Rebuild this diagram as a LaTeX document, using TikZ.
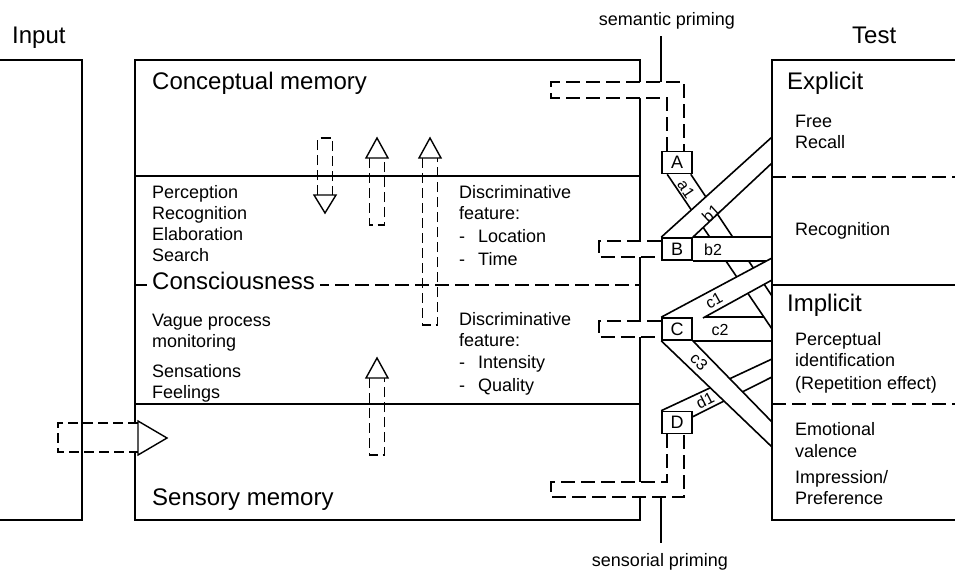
\documentclass[tikz,border=0pt]{standalone}
\usepackage{fontspec}
\setmainfont{Liberation Sans}
\usetikzlibrary{backgrounds}

\tikzset{
  txt/.style={anchor=base west, inner sep=0pt, font=\fontsize{18}{21}\selectfont},
  big/.style={anchor=base west, inner sep=0pt, font=\fontsize{24}{28}\selectfont},
  frame/.style={line width=1.6pt},
  dashframe/.style={line width=1.6pt, dash pattern=on 14pt off 6pt},
  prime/.style={line width=1.4pt, dash pattern=on 14pt off 6pt, fill=white},
  shaft/.style={line width=1.4pt, dash pattern=on 10pt off 5pt},
  head/.style={line width=1.4pt, fill=white, line join=miter},
  letterbox/.style={draw, line width=1.6pt, minimum width=30pt, minimum height=22pt, inner sep=0pt, fill=white, font=\fontsize{18}{21}\selectfont},
  bandlabel/.style={inner sep=0pt, font=\fontsize{16}{18}\selectfont},
}

\begin{document}
\begin{tikzpicture}[x=1pt, y=-1pt]
    \useasboundingbox (0,0) rectangle (955,573);

    % Memory frame
    \draw[frame] (135,60) rectangle (640,520);
    \draw[frame] (135,176) -- (640,176);
    \draw[frame] (135,404) -- (640,404);
    \draw[dashframe] (135,285) -- (640,285);

    % Test frame
    \draw[frame] (955,60) -- (772,60) -- (772,520) -- (955,520);
    \coordinate (T) at (772,60);
    \draw[dashframe] (772,177) -- (955,177);
    \draw[frame] (772,285) -- (955,285);
    \draw[dashframe] (772,404) -- (955,404);

    % Titles
    \node[big] (input) at (12,43) {Input};
    \node[big] (test) at (852,43) {Test};

    % Memory texts
    \node[big] (concept) at (152,89) {Conceptual memory};
    \foreach \word [count=\i from 0] in {Perception, Recognition, Elaboration, Search}
        \node[txt] (proc\i) at (152,198+21*\i) {\word};
    \node[big, fill=white, inner xsep=5pt, inner ysep=2pt] (consc) at (147,289) {Consciousness};
    \foreach \word [count=\i from 0] in {Vague process, monitoring}
        \node[txt] (vague\i) at (152,326+21*\i) {\word};
    \foreach \word [count=\i from 0] in {Sensations, Feelings}
        \node[txt] (sens\i) at (152,377+21*\i) {\word};
    \node[big] (sensory) at (152,505) {Sensory memory};

    \node[txt] (disc1) at (459,198) {Discriminative};
    \node[txt] (feat1) at (459,219) {feature:};
    \node[txt] (loc) at (459,242) {-\hspace{13pt}Location};
    \node[txt] (time) at (459,265) {-\hspace{13pt}Time};
    \node[txt] (disc2) at (459,325) {Discriminative};
    \node[txt] (feat2) at (459,346) {feature:};
    \node[txt] (inten) at (459,368) {-\hspace{13pt}Intensity};
    \node[txt] (qual) at (459,391) {-\hspace{13pt}Quality};

    % Test texts
    \node[big] (explicit) at (787,89) {Explicit};
    \node[txt] (free) at (795,127) {Free};
    \node[txt] (recall) at (795,148) {Recall};
    \node[txt] (recog) at (795,235) {Recognition};
    \node[big] (implicit) at (787,311) {Implicit};
    \node[txt] (percid) at (795,345) {Perceptual};
    \node[txt] (ident) at (795,366) {identification};
    \node[txt] (repet) at (795,389) {(Repetition effect)};
    \node[txt] (emot) at (795,435) {Emotional};
    \node[txt] (valence) at (795,457) {valence};
    \node[txt] (impr) at (795,483) {Impression/};
    \node[txt] (pref) at (795,504) {Preference};

    % Hollow arrows
    \foreach \x/\t/\b/\e in {377/138/158/225, 430/138/158/325, 377/358/378/455}
    {
        \draw[shaft] (\x-7.5,\b) -- (\x-7.5,\e) -- (\x+7.5,\e) -- (\x+7.5,\b);
        \draw[head] (\x-11,\b) -- (\x,\t) -- (\x+11,\b) -- cycle;
    }
    \draw[shaft] (317.5,195) -- (317.5,138) -- (332.5,138) -- (332.5,195);
    \draw[head] (314,195) -- (325,213) -- (336,195) -- cycle;

    % Input arrow
    \fill[white] (58,423) rectangle (138,452);
    \draw[shaft] (138,423) -- (58,423) -- (58,452) -- (138,452);
    \draw[head] (138,421) -- (167,438) -- (138,455) -- cycle;
    \draw[frame] (0,60) -- (82,60) -- (82,520) -- (0,520);

    % Letter boxes
    \node[letterbox] (A) at (677,162.5) {A};
    \node[letterbox] (B) at (677,249) {B};
    \node[letterbox] (C) at (677,329) {C};
    \node[letterbox] (D) at (677,422.5) {D};

    % Priming
    \node[txt, anchor=base] (sem) at (667,25) {semantic priming};
    \node[txt, anchor=base] (sensorial) at (660,566) {sensorial priming};
    \draw[prime] ([xshift=-10pt]A.north) |- (551,98) -- (551,82) -| ([xshift=7pt]A.north);
    \coordinate (semjoin) at (661,82);
    \draw[frame, shorten >=7pt] (semjoin) -- (semjoin |- sem.south);
    \draw[prime] ([yshift=8pt]B.west) -- (599,241) -- (599,257) -- ([yshift=-8pt]B.west);
    \draw[prime] ([yshift=8pt]C.west) -- (599,321) -- (599,337) -- ([yshift=-8pt]C.west);
    \draw[prime] ([xshift=-10pt]D.south) |- (551,482) -- (551,497) -| ([xshift=7pt]D.south);
    \coordinate (sensjoin) at (661,497);
    \draw[frame, shorten >=10pt] (sensjoin) -- (sensjoin |- sensorial.north);

    % Bands to the tests
    \begin{scope}[on background layer]
        % c2
        \fill[white] (C.north east) rectangle (C.south east -| T);
        \draw[frame] (C.north east) -- (C.north east -| T) (C.south east) -- (C.south east -| T);
        % a1
        \coordinate (a1s) at ([xshift=6pt]A.south west);
        \coordinate (a1e) at ([xshift=-2pt]A.south east);
        \fill[white] (a1s) -- (a1e) -- (772,296) -- (772,329) -- cycle;
        \draw[frame] (a1s) -- (772,329) (a1e) -- (772,296);
        % b1
        \fill[white] (B.north west) -- (B.north east) -- (772,163) -- (772,137) -- cycle;
        \draw[frame] (B.north west) -- (772,137) (B.north east) -- (772,163);
        % b2
        \fill[white] (B.north east) rectangle (B.south east -| T);
        \draw[frame] (B.north east) -- (B.north east -| T) (B.south east) -- (B.south east -| T);
        % c1
        \fill[white] (C.north west) -- (703,318) -- (772,280) -- (772,258) -- cycle;
        \draw[frame] (C.north west) -- (772,258) (703,318) -- (772,280);
        % d1
        \coordinate (d1e) at ([yshift=-6pt]D.north east);
        \fill[white] (D.north west) -- (d1e) -- (772,377) -- (772,359) -- cycle;
        \draw[frame] (D.north west) -- (772,359) (d1e) -- (772,377);
        % c3
        \fill[white] (C.south west) -- (C.south east) -- (772,422) -- (772,447) -- cycle;
        \draw[frame] (C.south west) -- (772,447) (C.south east) -- (772,422);
    \end{scope}

    \node[bandlabel, rotate=-56] (la1) at (686,189) {a1};
    \node[bandlabel, rotate=43] (lb1) at (711,213) {b1};
    \node[bandlabel] (lb2) at (713,250) {b2};
    \node[bandlabel, rotate=29] (lc1) at (714,301) {c1};
    \node[bandlabel] (lc2) at (720,330) {c2};
    \node[bandlabel, rotate=-45] (lc3) at (699,362) {c3};
    \node[bandlabel, rotate=27] (ld1) at (705,400) {d1};

\end{tikzpicture}
\end{document}
